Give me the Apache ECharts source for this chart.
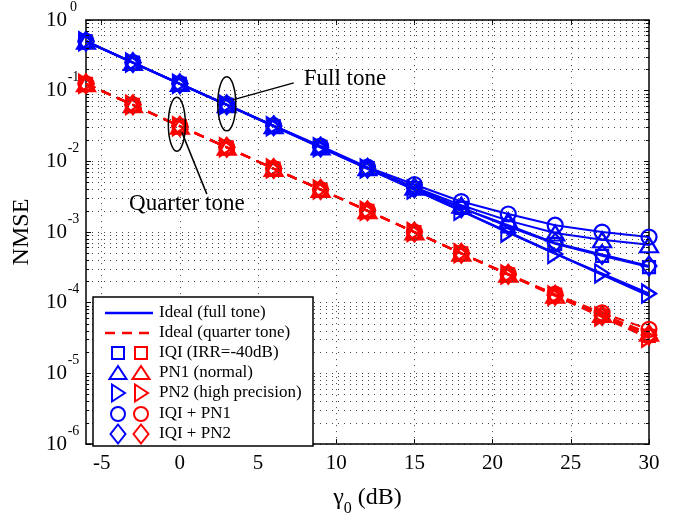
<!DOCTYPE html>
<html>
<head>
<meta charset="utf-8">
<script src="https://cdn.jsdelivr.net/npm/echarts@6/dist/echarts.min.js"></script>
<style>html,body{margin:0;padding:0;background:#fff;}#c{width:678px;height:522px;}</style>
</head>
<body>
<div id="c"></div>
<script>
// ---- data ----
const snr = [-6, -3, 0, 3, 6, 9, 12, 15, 18, 21, 24, 27, 30];
const xTicks = [-5, 0, 5, 10, 15, 20, 25, 30];
const xGrid = [-5, 0, 5, 10, 15, 20, 25];

const blueIdeal  = [0.5, 0.25, 0.125, 0.063, 0.0315, 0.0158, 0.0079, 0.0040, 0.0020, 0.0010, 0.0005, 0.00025, 0.000126];
const blueIQI    = [0.5, 0.25, 0.125, 0.063, 0.0316, 0.016, 0.008, 0.0042, 0.0022, 0.0012, 0.00068, 0.00046, 0.00032];
const bluePN1    = [0.5, 0.25, 0.126, 0.063, 0.032, 0.016, 0.0081, 0.0043, 0.0024, 0.00145, 0.00097, 0.00078, 0.00066];
const bluePN2    = [0.5, 0.25, 0.125, 0.063, 0.0315, 0.0158, 0.0079, 0.0040, 0.0020, 0.00098, 0.00049, 0.00026, 0.000135];
const blueIQIPN1 = [0.5, 0.25, 0.126, 0.064, 0.032, 0.0165, 0.0083, 0.0047, 0.0027, 0.0018, 0.00125, 0.0010, 0.00085];
const blueIQIPN2 = [0.5, 0.25, 0.125, 0.063, 0.032, 0.016, 0.008, 0.0042, 0.0022, 0.00125, 0.0007, 0.00048, 0.00033];

const redIdeal   = [0.125, 0.063, 0.0315, 0.0158, 0.0079, 0.004, 0.002, 0.001, 0.0005, 0.00025, 0.000126, 0.000063, 0.0000316];
const redIQI     = [0.125, 0.063, 0.0315, 0.0158, 0.0079, 0.004, 0.002, 0.001, 0.0005, 0.000252, 0.00013, 0.000066, 0.000034];
const redPN1     = [0.125, 0.063, 0.0315, 0.0158, 0.0079, 0.004, 0.002, 0.001, 0.0005, 0.000253, 0.000128, 0.000068, 0.000037];
const redPN2     = [0.125, 0.063, 0.0315, 0.0158, 0.0079, 0.004, 0.002, 0.001, 0.0005, 0.00025, 0.000126, 0.000064, 0.000032];
const redIQIPN1  = [0.125, 0.063, 0.0316, 0.0158, 0.0079, 0.004, 0.002, 0.001, 0.0005, 0.000255, 0.000132, 0.000072, 0.000042];
const redIQIPN2  = [0.125, 0.063, 0.0315, 0.0158, 0.0079, 0.004, 0.002, 0.001, 0.0005, 0.000252, 0.000128, 0.000066, 0.000035];

const legendLabels = ['Ideal (full tone)', 'Ideal (quarter tone)', 'IQI (IRR=-40dB)', 'PN1 (normal)', 'PN2 (high precision)', 'IQI + PN1', 'IQI + PN2'];

// ---- styling ----
const BLUE = '#0000ff', RED = '#ff0000';
const FONT = 'Liberation Serif, Times New Roman, serif';
const DOT = [1, 5];
const DOTCOLOR = '#444';

// minor log grid values
const minorVals = [];
for (let k = -6; k <= -1; k++) for (let m = 2; m <= 9; m++) minorVals.push(+(m * Math.pow(10, k)).toPrecision(3));

const zip = arr => snr.map((x, i) => [x, arr[i]]);

const markers = [
  { key: 'IQI', b: blueIQI, r: redIQI, symbol: 'rect', size: 12, rot: 0 },
  { key: 'PN1', b: bluePN1, r: redPN1, symbol: 'triangle', size: [18, 15], rot: 0 },
  { key: 'PN2', b: bluePN2, r: redPN2, symbol: 'triangle', size: [18, 14], rot: -90 },
  { key: 'IQIPN1', b: blueIQIPN1, r: redIQIPN1, symbol: 'circle', size: 15, rot: 0 },
  { key: 'IQIPN2', b: blueIQIPN2, r: redIQIPN2, symbol: 'diamond', size: [15, 19], rot: 0 }
];

const series = [];
series.push({ name: 'Ideal full', type: 'line', data: zip(blueIdeal), showSymbol: false, symbol: 'none',
  lineStyle: { color: BLUE, width: 2.5 }, z: 3, animation: false });
series.push({ name: 'Ideal quarter', type: 'line', data: zip(redIdeal), showSymbol: false, symbol: 'none',
  lineStyle: { color: RED, width: 2.5, type: [10, 7] }, z: 3, animation: false });
markers.forEach(m => {
  series.push({ name: m.key + ' full', type: 'line', data: zip(m.b), symbol: m.symbol, symbolSize: m.size, symbolRotate: m.rot,
    showAllSymbol: true, lineStyle: { color: BLUE, width: 2 },
    itemStyle: { color: 'transparent', borderColor: BLUE, borderWidth: 2.2 }, z: 4, animation: false });
  series.push({ name: m.key + ' quarter', type: 'line', data: zip(m.r), symbol: m.symbol, symbolSize: m.size, symbolRotate: m.rot,
    showAllSymbol: true, lineStyle: { color: RED, width: 2, type: [10, 7] },
    itemStyle: { color: 'transparent', borderColor: RED, borderWidth: 2.2 }, z: 4, animation: false });
});

// grid helper series (dotted grid lines and minor ticks drawn through axis scales)
const gridLines = [];
xGrid.forEach(v => gridLines.push([{ coord: [v, 1e-6] }, { coord: [v, 1] }]));
minorVals.forEach(v => gridLines.push([{ coord: [-6, v] }, { coord: [30, v] }]));
series.push({ name: 'grid', type: 'line', data: [], silent: true, z: 1, animation: false,
  markLine: { silent: true, symbol: 'none', label: { show: false }, animation: false,
    lineStyle: { type: DOT, color: DOTCOLOR, width: 1 }, emphasis: { disabled: true }, data: gridLines } });
const minorTicks = [];
minorVals.forEach(v => {
  minorTicks.push([{ coord: [-6, v] }, { coord: [-5.8, v] }]);
  minorTicks.push([{ coord: [29.8, v] }, { coord: [30, v] }]);
});
series.push({ name: 'minorticks', type: 'line', data: [], silent: true, z: 2, animation: false,
  markLine: { silent: true, symbol: 'none', label: { show: false }, animation: false,
    lineStyle: { type: 'solid', color: '#000', width: 1 }, emphasis: { disabled: true }, data: minorTicks } });

const axisLineStyle = { color: '#000', width: 1.5 };

const option = {
  backgroundColor: '#fff',
  animation: false,
  grid: { left: 86, right: 29, top: 18, bottom: 67, containLabel: false },
  xAxis: [
    { type: 'value', min: -6, max: 30, position: 'bottom',
      axisLine: { show: true, onZero: false, lineStyle: axisLineStyle },
      axisTick: { show: true, inside: true, length: 5, lineStyle: { color: '#000', width: 1 }, customValues: xTicks },
      axisLabel: { show: true, customValues: xTicks, color: '#000', fontFamily: FONT, fontSize: 21, margin: 9 },
      splitLine: { show: false },
      name: '{g|γ}{sub|0}{g| (dB)}', nameLocation: 'middle', nameGap: 28,
      nameTextStyle: { color: '#000', fontFamily: FONT, fontSize: 24,
        rich: { g: { fontFamily: FONT, fontSize: 24, color: '#000', lineHeight: 26 },
                sub: { fontFamily: FONT, fontSize: 16, color: '#000', lineHeight: 16, padding: [22, 0, 0, 0] } } } },
    { type: 'value', min: -6, max: 30, position: 'top',
      axisLine: { show: true, onZero: false, lineStyle: axisLineStyle },
      axisTick: { show: true, inside: true, length: 5, lineStyle: { color: '#000', width: 1 }, customValues: xTicks },
      axisLabel: { show: false }, splitLine: { show: false } }
  ],
  yAxis: [
    { type: 'log', logBase: 10, min: 1e-6, max: 1, splitNumber: 6, position: 'left',
      axisLine: { show: true, onZero: false, lineStyle: axisLineStyle },
      axisTick: { show: true, inside: true, length: 5, lineStyle: { color: '#000', width: 1 } },
      axisLabel: { show: true, margin: 6, color: '#000',
        formatter: v => '{b|10}{s|' + Math.round(Math.log10(v)) + '}',
        rich: { b: { fontFamily: FONT, fontSize: 21, color: '#000', lineHeight: 22 },
                s: { fontFamily: FONT, fontSize: 14, color: '#000', lineHeight: 14, width: 13, align: 'left', padding: [0, 0, 26, 0] } } },
      splitLine: { show: true, lineStyle: { type: DOT, color: DOTCOLOR, width: 1 } },
      name: 'NMSE', nameLocation: 'middle', nameGap: 52, nameRotate: 90,
      nameTextStyle: { color: '#000', fontFamily: FONT, fontSize: 24 } },
    { type: 'log', logBase: 10, min: 1e-6, max: 1, splitNumber: 6, position: 'right',
      axisLine: { show: true, onZero: false, lineStyle: axisLineStyle },
      axisTick: { show: true, inside: true, length: 5, lineStyle: { color: '#000', width: 1 } },
      axisLabel: { show: false }, splitLine: { show: false } }
  ],
  series: series
};

const chart = echarts.init(document.getElementById('c'), null, { renderer: 'canvas' });
chart.setOption(option);

// ---- legend (custom: two marker columns) ----
const LX = 93, LY = 297, LW = 220, LH = 149;
const rowY = [313, 333, 353, 373, 393, 414, 434];
const bx = 118, rx = 141, tx = 159;
const g = [];
g.push({ type: 'rect', shape: { x: LX, y: LY, width: LW, height: LH }, style: { fill: '#fff', stroke: '#000', lineWidth: 1.5 }, z: 100 });
g.push({ type: 'line', shape: { x1: 105, y1: rowY[0], x2: 153, y2: rowY[0] }, style: { stroke: BLUE, lineWidth: 2.5 }, z: 101 });
g.push({ type: 'line', shape: { x1: 105, y1: rowY[1], x2: 153, y2: rowY[1] }, style: { stroke: RED, lineWidth: 2.5, lineDash: [10, 7] }, z: 101 });
function markerShape(kind, cx, cy, color) {
  const st = { fill: 'none', stroke: color, lineWidth: 2 };
  if (kind === 'rect') return { type: 'rect', shape: { x: cx - 6, y: cy - 6, width: 12, height: 12 }, style: st, z: 101 };
  if (kind === 'tri') return { type: 'polygon', shape: { points: [[cx, cy - 7], [cx + 8.5, cy + 6], [cx - 8.5, cy + 6]] }, style: st, z: 101 };
  if (kind === 'rtri') return { type: 'polygon', shape: { points: [[cx - 6, cy - 8.5], [cx + 7, cy], [cx - 6, cy + 8.5]] }, style: st, z: 101 };
  if (kind === 'circ') return { type: 'circle', shape: { cx: cx, cy: cy, r: 7 }, style: st, z: 101 };
  return { type: 'polygon', shape: { points: [[cx, cy - 9.5], [cx + 7.5, cy], [cx, cy + 9.5], [cx - 7.5, cy]] }, style: st, z: 101 };
}
['rect', 'tri', 'rtri', 'circ', 'dia'].forEach((k, i) => {
  g.push(markerShape(k, bx, rowY[i + 2], BLUE));
  g.push(markerShape(k, rx, rowY[i + 2], RED));
});
legendLabels.forEach((t, i) => {
  g.push({ type: 'text', x: tx, y: rowY[i], style: { text: t, fill: '#000', font: '17px ' + FONT, textVerticalAlign: 'middle', textAlign: 'left' }, z: 101 });
});

// ---- annotations anchored to data points ----
const p1 = chart.convertToPixel({ xAxisIndex: 0, yAxisIndex: 0 }, [snr[3], blueIdeal[3]]);
const p2 = chart.convertToPixel({ xAxisIndex: 0, yAxisIndex: 0 }, [snr[2], redIdeal[2]]);
g.push({ type: 'ellipse', shape: { cx: p1[0], cy: p1[1] - 1, rx: 9, ry: 27 }, style: { fill: 'none', stroke: '#000', lineWidth: 1.5 }, z: 50 });
g.push({ type: 'line', shape: { x1: p1[0] + 6, y1: p1[1] - 5, x2: p1[0] + 67, y2: p1[1] - 22 }, style: { stroke: '#000', lineWidth: 1.5 }, z: 50 });
g.push({ type: 'text', x: p1[0] + 77, y: p1[1] - 26, style: { text: 'Full tone', fill: '#000', font: '23px ' + FONT, textVerticalAlign: 'middle', textAlign: 'left' }, z: 50 });
g.push({ type: 'ellipse', shape: { cx: p2[0] - 3, cy: p2[1] - 2, rx: 8.5, ry: 27 }, style: { fill: 'none', stroke: '#000', lineWidth: 1.5 }, z: 50 });
g.push({ type: 'line', shape: { x1: p2[0] + 2, y1: p2[1] + 6, x2: p2[0] + 27, y2: p2[1] + 68 }, style: { stroke: '#000', lineWidth: 1.5 }, z: 50 });
g.push({ type: 'text', x: p2[0] + 7, y: p2[1] + 78, style: { text: 'Quarter tone', fill: '#000', font: '23px ' + FONT, textVerticalAlign: 'middle', textAlign: 'center' }, z: 50 });

chart.setOption({ graphic: { elements: g } });
</script>
</body>
</html>
